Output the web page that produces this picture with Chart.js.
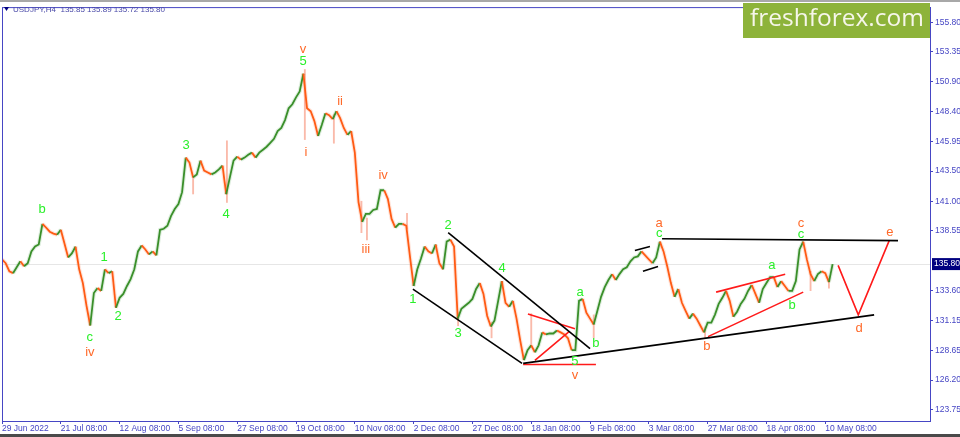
<!DOCTYPE html>
<html>
<head>
<meta charset="utf-8">
<script src="https://cdn.jsdelivr.net/npm/chart.js@4.4.1/dist/chart.umd.min.js"></script>
<style>
  html, body { margin: 0; padding: 0; background: #fff; }
  #chart { display: block; }
</style>
</head>
<body>
<canvas id="chart" width="960" height="437"></canvas>
<script>
// USDJPY H4, one close per trading day
const symbolTitle = "USDJPY,H4  135.85 135.89 135.72 135.80";
const lastPrice = 135.80;

const tickDays = [0, 16, 32, 48, 64, 80, 96, 112, 128, 144, 160, 176, 192, 208, 224];
const tickLabels = ["29 Jun 2022", "21 Jul 08:00", "12 Aug 08:00", "5 Sep 08:00", "27 Sep 08:00",
  "19 Oct 08:00", "10 Nov 08:00", "2 Dec 08:00", "27 Dec 08:00", "18 Jan 08:00",
  "9 Feb 08:00", "3 Mar 08:00", "27 Mar 08:00", "18 Apr 08:00", "10 May 08:00"];
const priceTicks = [155.80, 153.35, 150.90, 148.40, 145.95, 143.50, 141.00, 138.55,
  133.60, 131.15, 128.65, 126.20, 123.75];

const closes = [
  136.19, 135.87, 135.21, 135.05, 135.54, 136.03, 135.62, 135.87, 136.85, 137.25,
  137.42, 139.13, 138.81, 138.48, 138.32, 138.23, 138.64, 137.50, 136.35, 136.68,
  137.25, 135.37, 134.23, 132.35, 130.72, 133.41, 133.82, 133.58, 135.37, 135.05,
  135.21, 132.19, 133.01, 133.33, 133.99, 134.56, 135.37, 136.85, 137.34, 137.01,
  136.60, 136.85, 136.52, 138.64, 138.72, 138.97, 139.79, 140.36, 140.77, 141.75,
  144.61, 144.20, 142.97, 143.22, 144.36, 143.54, 143.38, 143.22, 143.38, 143.63,
  143.95, 141.58, 142.97, 144.36, 144.69, 144.44, 144.61, 144.85, 145.02, 144.61,
  145.02, 145.26, 145.51, 145.83, 146.16, 146.81, 147.06, 147.71, 148.69, 149.02,
  149.59, 150.08, 151.55, 148.69, 148.45, 147.63, 146.40, 147.30, 148.28, 148.12,
  147.79, 148.45, 147.87, 147.06, 146.49, 146.81, 145.02, 140.93, 139.30, 139.95,
  139.95, 140.28, 140.36, 141.91, 141.91, 141.18, 139.54, 138.81, 139.13, 139.13,
  138.97, 136.44, 133.99, 135.37, 136.27, 137.25, 136.85, 136.68, 137.42, 135.87,
  135.37, 137.66, 137.83, 137.25, 131.29, 132.11, 132.35, 132.60, 132.92, 133.74,
  134.23, 133.33, 131.53, 130.64, 131.13, 132.76, 134.39, 132.60, 132.27, 132.76,
  131.29, 129.49, 127.86, 128.68, 129.08, 128.51, 129.08, 130.15, 129.98, 130.06,
  130.06, 130.31, 130.15, 129.98, 129.66, 128.68, 128.68, 132.76, 132.92, 131.78,
  131.29, 130.80, 131.94, 133.09, 133.90, 134.48, 134.97, 134.48, 134.97, 135.37,
  135.54, 136.03, 136.35, 136.44, 136.85, 136.52, 136.19, 135.87, 136.35, 137.66,
  136.85, 135.62, 134.23, 133.09, 133.74, 132.60, 131.94, 131.29, 131.70, 131.29,
  130.72, 130.15, 130.96, 130.96, 131.62, 132.51, 133.01, 133.58, 132.76, 131.45,
  131.86, 132.51, 132.92, 133.58, 134.07, 133.33, 132.60, 133.74, 134.23, 134.72,
  134.72, 133.90, 134.39, 133.99, 133.58, 133.58, 134.39, 137.01, 137.66, 136.19,
  134.97, 134.39, 134.97, 135.21, 135.05, 134.31, 135.80
];

// the longer candle wicks that stick out of the close line
const wickDay = [52.0, 61.2, 82.4, 90.3, 97.8, 99.3, 110.2, 124.1, 133.2, 144.0, 161.0, 191.3, 220.0, 225.0];
const wickHigh = [143.0, 146.0, 151.9, 148.2, 141.0, 139.6, 140.0, 131.8, 131.0, 131.7, 131.6, 130.6, 135.2, 134.6];
const wickLow = [141.6, 140.9, 146.1, 145.8, 138.4, 137.8, 138.7, 130.7, 129.7, 128.9, 129.7, 129.7, 133.6, 133.8];

// wave drawing lines: [day, price] pairs
const blackLines = [
  [[111.8, 133.73], [141.5, 127.59]],   // lower channel
  [[121.4, 138.40], [160.0, 128.81]],   // upper channel
  [[141.8, 127.59], [237.3, 131.60]],   // triangle support
  [[179.6, 137.90], [243.8, 137.74]],   // triangle resistance
  [[172.2, 136.92], [176.3, 137.25]],
  [[174.4, 135.20], [178.5, 135.61]]
];
const redLines = [
  [[143.1, 131.68], [155.9, 130.45]],
  [[145.0, 127.83], [154.3, 130.21]],
  [[141.8, 127.50], [161.6, 127.50]],
  [[194.3, 133.48], [213.1, 134.96]],
  [[192.1, 129.80], [218.0, 133.48]],
  [[227.5, 135.69], [233.0, 131.60], [241.4, 137.74]]  // projected d-e
];

const greenText = ["b", "1", "c", "2", "3", "4", "5", "2", "1", "3", "4", "5", "a", "b", "c", "a", "b", "c"];
const greenDay = [10.9, 27.8, 23.9, 31.6, 50.1, 61.0, 81.9, 121.4, 111.8, 124.1, 136.1, 155.9, 157.3, 161.6, 178.8, 209.5, 215.0, 217.4];
const greenPrice = [140.36, 136.35, 129.71, 131.43, 145.60, 139.95, 152.56, 138.97, 132.91, 130.04, 135.45, 127.75, 133.48, 129.22, 138.31, 135.69, 132.42, 138.23];

const orangeText = ["v", "i", "ii", "iii", "iv", "iv", "v", "a", "b", "c", "d", "e"];
const orangeDay = [81.9, 82.7, 92.0, 99.0, 103.7, 23.9, 155.9, 178.8, 191.8, 217.4, 233.2, 241.6];
const orangePrice = [153.55, 145.03, 149.29, 137.00, 143.15, 128.49, 126.60, 139.13, 128.98, 139.13, 130.45, 138.40];

const axisColor = "#4646c4";
const upColor = "#3a8f2a";
const downColor = "#ff5b14";
const greenLabel = "#2af02a";
const orangeLabel = "#ff6a2a";
const font = "'Liberation Sans', Arial, sans-serif";

const datasets = [];
blackLines.concat(redLines).forEach((pts, i) => {
  datasets.push({
    data: pts.map(p => ({ x: p[0], y: p[1] })),
    borderColor: i < blackLines.length ? "#000" : "#ff1a1a",
    borderWidth: 1.6,
    pointRadius: 0,
    order: 1
  });
});
// candle bodies
datasets.push({
  data: closes.map((c, i) => ({ x: i, y: c })),
  borderWidth: 1.8,
  pointRadius: 0,
  order: 2,
  segment: {
    borderColor: ctx => ctx.p1.parsed.y >= ctx.p0.parsed.y ? upColor : downColor
  }
});
// pale wick shading around the bodies
datasets.push({
  data: closes.map((c, i) => ({ x: i, y: c })),
  borderWidth: 4,
  pointRadius: 0,
  order: 4,
  segment: {
    borderColor: ctx => ctx.p1.parsed.y >= ctx.p0.parsed.y ? "rgba(90,170,90,0.2)" : "rgba(255,120,70,0.2)"
  }
});
datasets.push({
  type: "bar",
  data: wickDay.map((d, i) => ({ x: d, y: [wickLow[i], wickHigh[i]] })),
  backgroundColor: "rgba(245,130,100,0.55)",
  barThickness: 1.2,
  order: 3
});

const decor = {
  id: "decor",
  beforeDatasetsDraw(chart) {
    const { ctx, chartArea: a, scales } = chart;
    const y = scales.y.getPixelForValue(lastPrice);
    ctx.save();
    ctx.strokeStyle = "#e6e6e6";
    ctx.lineWidth = 1;
    ctx.beginPath();
    ctx.moveTo(a.left, Math.round(y) + 0.5);
    ctx.lineTo(a.right, Math.round(y) + 0.5);
    ctx.stroke();
    ctx.restore();
  },
  afterDraw(chart) {
    const { ctx, chartArea: a, scales } = chart;
    ctx.save();
    // frame
    ctx.strokeStyle = axisColor;
    ctx.lineWidth = 1;
    ctx.strokeRect(a.left + 0.5, a.top + 0.5, a.right - a.left, a.bottom - a.top);
    ctx.fillStyle = "#a8a8a8";
    ctx.fillRect(0, 0, 960, 2);
    ctx.fillStyle = "#4a4a4a";
    ctx.fillRect(0, 434, 960, 3);

    // wave labels
    ctx.font = "13px " + font;
    ctx.textAlign = "center";
    ctx.textBaseline = "middle";
    ctx.fillStyle = greenLabel;
    greenText.forEach((t, i) => {
      ctx.fillText(t, scales.x.getPixelForValue(greenDay[i]), scales.y.getPixelForValue(greenPrice[i]));
    });
    ctx.fillStyle = orangeLabel;
    orangeText.forEach((t, i) => {
      ctx.fillText(t, scales.x.getPixelForValue(orangeDay[i]), scales.y.getPixelForValue(orangePrice[i]));
    });

    // price tag
    const py = scales.y.getPixelForValue(lastPrice);
    ctx.fillStyle = "#000080";
    ctx.fillRect(a.right + 2, py - 6, 28, 12);
    ctx.fillStyle = "#fff";
    ctx.font = "8.5px " + font;
    ctx.textAlign = "left";
    ctx.fillText(lastPrice.toFixed(2), a.right + 4, py);

    // title
    ctx.fillStyle = "#000080";
    ctx.beginPath();
    ctx.moveTo(4, 7); ctx.lineTo(9, 7); ctx.lineTo(6.5, 11); ctx.closePath();
    ctx.fill();
    ctx.fillStyle = "#4a4aa8";
    ctx.font = "8px " + font;
    ctx.fillText(symbolTitle, 13, 9.5);

    // logo
    ctx.fillStyle = "#8db33a";
    ctx.fillRect(743, 3, 187, 35);
    ctx.fillStyle = "#f6f6ea";
    ctx.font = "24.5px 'Open Sans', sans-serif";
    ctx.textAlign = "center";
    ctx.fillText("freshforex.com", 837, 19);
    ctx.restore();
  }
};

new Chart(document.getElementById("chart"), {
  type: "line",
  data: { datasets },
  plugins: [decor],
  options: {
    responsive: false,
    animation: false,
    devicePixelRatio: 1,
    layout: { padding: { left: 2, top: 3, right: 0, bottom: 0 } },
    plugins: { legend: { display: false }, tooltip: { enabled: false } },
    scales: {
      x: {
        type: "linear",
        min: 0,
        max: 252.5,
        offset: false,
        afterFit: s => { s.height = 16; },
        afterBuildTicks: s => { s.ticks = tickDays.map(v => ({ value: v })); },
        ticks: {
          align: "start",
          autoSkip: false,
          maxRotation: 0,
          padding: 0,
          color: axisColor,
          font: { size: 8.5, family: font },
          callback: v => tickLabels[tickDays.indexOf(v)]
        },
        grid: { drawOnChartArea: false, offset: false, tickLength: 3, color: axisColor },
        border: { color: axisColor }
      },
      y: {
        position: "right",
        min: 122.82,
        max: 157.06,
        afterFit: s => { s.width = 30; },
        afterBuildTicks: s => { s.ticks = priceTicks.map(v => ({ value: v })); },
        ticks: {
          padding: 2,
          color: axisColor,
          font: { size: 8.5, family: font },
          callback: v => v.toFixed(2)
        },
        grid: { drawOnChartArea: false, tickLength: 3, color: axisColor },
        border: { color: axisColor }
      }
    }
  }
});
</script>
</body>
</html>
